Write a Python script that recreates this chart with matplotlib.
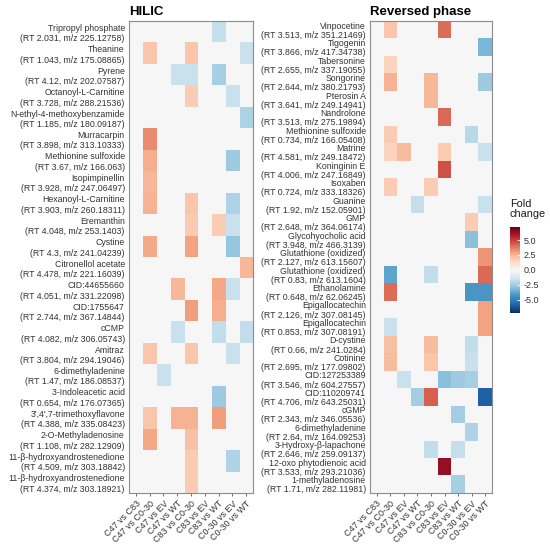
import numpy as np
import matplotlib
matplotlib.use("Agg")
import matplotlib.pyplot as plt

plt.rcParams["font.family"] = ["Liberation Sans", "DejaVu Sans"]

COMPARISONS = ["C47 vs C83", "C47 vs C0-30", "C47 vs EV", "C47 vs WT",
               "C83 vs C0-30", "C83 vs EV", "C83 vs WT", "C0-30 vs EV",
               "C0-30 vs WT"]

HILIC_LABELS = [
    "Tripropyl phosphate\n(RT 2.031, m/z 225.12758)",
    "Theanine\n(RT 1.043, m/z 175.08865)",
    "Pyrene\n(RT 4.12, m/z 202.07587)",
    "Octanoyl-L-Carnitine\n(RT 3.728, m/z 288.21536)",
    "N-ethyl-4-methoxybenzamide\n(RT 1.185, m/z 180.09187)",
    "Murracarpin\n(RT 3.898, m/z 313.10333)",
    "Methionine sulfoxide\n(RT 3.67, m/z 166.063)",
    "Isopimpinellin\n(RT 3.928, m/z 247.06497)",
    "Hexanoyl-L-Carnitine\n(RT 3.903, m/z 260.18311)",
    "Eremanthin\n(RT 4.048, m/z 253.1403)",
    "Cystine\n(RT 4.3, m/z 241.04239)",
    "Citronellol acetate\n(RT 4.478, m/z 221.16039)",
    "CID:44655660\n(RT 4.051, m/z 331.22098)",
    "CID:1755647\n(RT 2.744, m/z 367.14844)",
    "cCMP\n(RT 4.082, m/z 306.05743)",
    "Amitraz\n(RT 3.804, m/z 294.19046)",
    "6-dimethyladenine\n(RT 1.47, m/z 186.08537)",
    "3-Indoleacetic acid\n(RT 0.654, m/z 176.07365)",
    "3',4',7-trimethoxyflavone\n(RT 4.388, m/z 335.08423)",
    "2-O-Methyladenosine\n(RT 1.108, m/z 282.12909)",
    "11-\u03b2-hydroxyandrostenedione\n(RT 4.509, m/z 303.18842)",
    "11-\u03b2-hydroxyandrostenedione\n(RT 4.374, m/z 303.18921)",
]

# fold change per comparison (columns in COMPARISONS order)
HILIC_VALUES = [
    [0, 0, 0, 0, 0, 0, -1.7, 0, 0],
    [0, 2.0, 0, 0, 2.0, 0, 0, 0, -1.6],
    [0, 0, 0, -1.6, -1.6, 0, -2.4, 0, 0],
    [0, 0, 0, 0, 1.8, 0, 0, -1.6, 0],
    [0, 0, 0, 0, 0, 0, 0, 0, -2.3],
    [0, 3.4, 0, 0, 0, 0, 0, 0, 0],
    [0, 2.6, 0, 0, 0, 0, 0, -2.6, 0],
    [0, 2.4, 0, 0, 0, 0, 0, 0, 0],
    [0, 2.5, 0, 0, 2.0, 0, 0, -2.2, 0],
    [0, 0, 0, 0, 1.9, 0, 1.8, -1.6, 0],
    [0, 2.7, 0, 0, 2.9, 0, 0, -2.8, 0],
    [0, 0, 0, 0, 0, 0, 0, 0, 2.4],
    [0, 0, 0, 2.4, 0, 0, 2.8, -1.6, 0],
    [0, 0, 0, 0, 3.0, 0, 2.6, 0, 0],
    [0, 0, 0, -1.6, 0, 0, -1.8, 0, -1.8],
    [0, 2.0, 0, 0, 2.0, 0, 0, -1.6, 0],
    [0, 0, -1.6, 0, 0, 0, 0, 0, 0],
    [0, 0, 0, 0, 0, 0, -2.6, 0, 0],
    [0, 2.0, 0, 2.5, 2.5, 0, 3.0, 0, 0],
    [0, 2.8, 0, 0, 2.1, 0, 0, 0, 0],
    [0, 0, 0, 0, 1.8, 0, 0, -2.2, 0],
    [0, 0, 0, 0, 1.8, 0, 0, 0, 0],
]

RP_LABELS = [
    "Vinpocetine\n(RT 3.513, m/z 351.21469)",
    "Tigogenin\n(RT 3.866, m/z 417.34738)",
    "Tabersonine\n(RT 2.655, m/z 337.19055)",
    "Songorine\n(RT 2.644, m/z 380.21793)",
    "Pterosin A\n(RT 3.641, m/z 249.14941)",
    "Nandrolone\n(RT 3.513, m/z 275.19894)",
    "Methionine sulfoxide\n(RT 0.734, m/z 166.05408)",
    "Matrine\n(RT 4.581, m/z 249.18472)",
    "Koninginin E\n(RT 4.006, m/z 247.16849)",
    "Isoxaben\n(RT 0.724, m/z 333.18326)",
    "Guanine\n(RT 1.92, m/z 152.05901)",
    "GMP\n(RT 2.648, m/z 364.06174)",
    "Glycohyocholic acid\n(RT 3.948, m/z 466.3139)",
    "Glutathione (oxidized)\n(RT 2.127, m/z 613.15607)",
    "Glutathione (oxidized)\n(RT 0.83, m/z 613.1604)",
    "Ethanolamine\n(RT 0.648, m/z 62.06245)",
    "Epigallocatechin\n(RT 2.126, m/z 307.08145)",
    "Epigallocatechin\n(RT 0.853, m/z 307.08191)",
    "D-cystine\n(RT 0.66, m/z 241.0284)",
    "Cotinine\n(RT 2.695, m/z 177.09802)",
    "CID:127253389\n(RT 3.546, m/z 604.27557)",
    "CID:110209741\n(RT 4.706, m/z 643.25031)",
    "cGMP\n(RT 2.343, m/z 346.05536)",
    "6-dimethyladenine\n(RT 2.64, m/z 164.09253)",
    "3-Hydroxy-\u03b2-lapachone\n(RT 2.646, m/z 259.09137)",
    "12-oxo phytodienoic acid\n(RT 3.533, m/z 293.21036)",
    "1-methyladenosine\n(RT 1.71, m/z 282.11981)",
]

RP_VALUES = [
    [0, 2.0, 0, 0, 0, 4.0, 0, 0, 0],
    [0, 0, 0, 0, 0, 0, 0, 0, -3.3],
    [0, 1.6, 0, 0, 0, 0, 0, 0, 0],
    [0, 2.5, 0, 0, 2.4, 0, 0, 0, -2.6],
    [0, 0, 0, 0, 2.4, 0, 0, 0, 0],
    [0, 0, 0, 0, 0, 4.1, 0, 0, 0],
    [0, 1.8, 0, 0, 0, 0, 0, -2.0, 0],
    [0, 1.6, 2.3, 0, 0, 1.8, 0, 0, -1.6],
    [0, 0, 0, 0, 0, 4.6, 0, 0, 0],
    [0, 1.8, 0, 0, 1.8, 0, 0, 0, 0],
    [0, 0, 0, -1.7, 0, 0, 0, 0, -1.6],
    [0, 0, 0, 0, 0, 0, 0, 1.8, 0],
    [0, 0, 0, 0, 0, 0, 0, -3.0, 0],
    [0, 0, 0, 0, 0, 0, 0, 0, 3.2],
    [0, -3.8, 0, 0, -1.8, 0, 0, 0, 4.1],
    [0, 4.0, 0, 0, 0, 0, 0, -4.2, -4.2],
    [0, 0, 0, 0, 0, 0, 0, 0, 2.9],
    [0, -1.6, 0, 0, 0, 0, 0, 0, 2.9],
    [0, 2.1, 0, 0, 2.3, 0, 0, -1.8, 0],
    [0, 2.3, 0, 0, 2.0, 0, 0, -1.6, 0],
    [0, 0, -1.6, 0, 0, -3.0, -2.6, -2.4, 0],
    [0, 0, 0, -2.5, 4.3, 0, 0, 0, -5.9],
    [0, 0, 0, 0, 0, 0, -2.5, 0, 0],
    [0, 0, 0, 0, 0, 0, 0, -2.2, 0],
    [0, 0, 0, 0, -1.8, 0, -1.7, 0, 0],
    [0, 0, 0, 0, 0, 6.3, 0, 0, 0],
    [0, 0, 0, 0, 0, 0, -2.4, 0, 0],
]

CBAR_TICKS = [-5.0, -2.5, 0.0, 2.5, 5.0]
LIMIT = 7.2
TEXT_COLOR = "#333333"
FRAME_COLOR = "#8c8c8c"


def _heatmap(ax, values, labels, title, linespacing):
    im = ax.imshow(np.array(values), aspect="auto", cmap="RdBu_r",
                   vmin=-LIMIT, vmax=LIMIT, interpolation="nearest")
    ax.set_yticks(np.arange(len(labels)))
    ax.set_yticklabels(labels, fontsize=6.3, color=TEXT_COLOR,
                       linespacing=linespacing)
    ax.set_xticks(np.arange(len(COMPARISONS)))
    ax.set_xticklabels(COMPARISONS, rotation=45, ha="right",
                       rotation_mode="anchor", fontsize=6.4, color=TEXT_COLOR)
    ax.tick_params(axis="y", length=0, pad=3)
    ax.tick_params(axis="x", length=2.5, width=0.6, color="#555555", pad=2)
    for sp in ax.spines.values():
        sp.set_color(FRAME_COLOR)
        sp.set_linewidth(0.8)
    ax.set_title(title, loc="left", fontsize=9.5, fontweight="bold", pad=4)
    return im


fig = plt.figure(figsize=(5.5, 5.45), dpi=100)
ax1 = fig.add_axes([0.2345, 0.0954, 0.2255, 0.866])
ax2 = fig.add_axes([0.6727, 0.0954, 0.2218, 0.866])
cax = fig.add_axes([0.927, 0.4257, 0.018, 0.158])

_heatmap(ax1, HILIC_VALUES, HILIC_LABELS, "HILIC", 1.2)
im = _heatmap(ax2, RP_VALUES, RP_LABELS, "Reversed phase", 1.02)

cb = fig.colorbar(im, cax=cax, ticks=CBAR_TICKS)
cb.outline.set_visible(False)
cb.ax.set_yticklabels([f"{t:.1f}" for t in CBAR_TICKS], fontsize=6.5,
                      color=TEXT_COLOR)
cb.ax.tick_params(length=2, width=0.6, color="white", direction="in", pad=3)
fig.text(0.927, 0.598, "Fold\nchange", fontsize=7.8, ha="left", va="bottom",
         color="#1a1a1a", linespacing=1.05)

fig.savefig("out.png", dpi=100)
plt.close(fig)
